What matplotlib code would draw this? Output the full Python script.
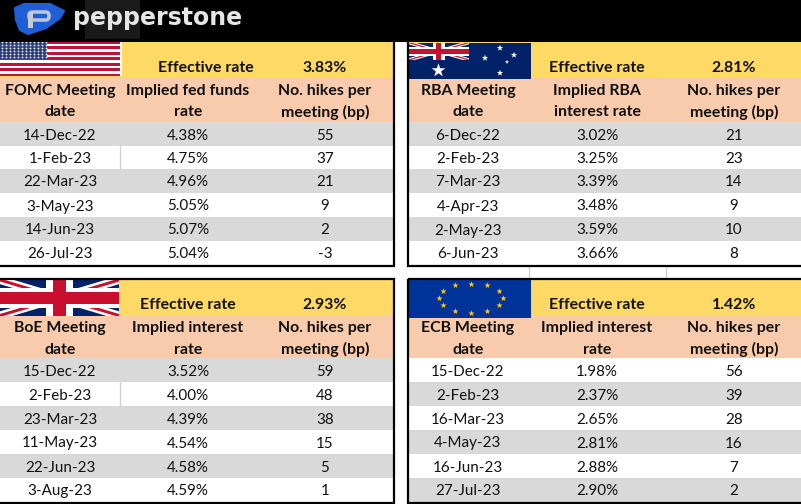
import numpy as np
import matplotlib
matplotlib.use('Agg')
import matplotlib.pyplot as plt
from matplotlib.patches import Rectangle, Polygon, FancyBboxPatch

plt.rcParams['font.family'] = ['Lato', 'DejaVu Sans']

W, H = 801, 504

GRAY = '#d9d9d9'
YELLOW = '#ffd966'
PEACH = '#f8cbad'
TXT = '#111111'
FS = 10.9
FS_BOLD = 11.4

# chart values
us_dates = ['14-Dec-22', '1-Feb-23', '22-Mar-23', '3-May-23', '14-Jun-23', '26-Jul-23']
us_rates = ['4.38%', '4.75%', '4.96%', '5.05%', '5.07%', '5.04%']
us_hikes = ['55', '37', '21', '9', '2', '-3']
us_head = ['FOMC Meeting\ndate', 'Implied fed funds\nrate', 'No. hikes per\nmeeting (bp)']
us_eff = '3.83%'

au_dates = ['6-Dec-22', '2-Feb-23', '7-Mar-23', '4-Apr-23', '2-May-23', '6-Jun-23']
au_rates = ['3.02%', '3.25%', '3.39%', '3.48%', '3.59%', '3.66%']
au_hikes = ['21', '23', '14', '9', '10', '8']
au_head = ['RBA Meeting\ndate', 'Implied RBA\ninterest rate', 'No. hikes per\nmeeting (bp)']
au_eff = '2.81%'

uk_dates = ['15-Dec-22', '2-Feb-23', '23-Mar-23', '11-May-23', '22-Jun-23', '3-Aug-23']
uk_rates = ['3.52%', '4.00%', '4.39%', '4.54%', '4.58%', '4.59%']
uk_hikes = ['59', '48', '38', '15', '5', '1']
uk_head = ['BoE Meeting\ndate', 'Implied interest\nrate', 'No. hikes per\nmeeting (bp)']
uk_eff = '2.93%'

eu_dates = ['15-Dec-22', '2-Feb-23', '16-Mar-23', '4-May-23', '16-Jun-23', '27-Jul-23']
eu_rates = ['1.98%', '2.37%', '2.65%', '2.81%', '2.88%', '2.90%']
eu_hikes = ['56', '39', '28', '16', '7', '2']
eu_head = ['ECB Meeting\ndate', 'Implied interest\nrate', 'No. hikes per\nmeeting (bp)']
eu_eff = '1.42%'

fig = plt.figure(figsize=(W / 100, H / 100), dpi=100)
ax = fig.add_axes([0, 0, 1, 1])
ax.set_xlim(0, W)
ax.set_ylim(H, 0)
ax.axis('off')


def rect(x0, y0, x1, y1, color, z=1):
    ax.add_patch(Rectangle((x0, y0), x1 - x0, y1 - y0, fc=color, ec='none', lw=0, zorder=z))


def panel(x0, x1, top, head_y, rows_y, cols, label_x, dates, rates, hikes, head, eff, grey_first=True):
    rect(x0, top, x1, head_y, YELLOW)
    rect(x0, head_y, x1, rows_y[0], PEACH)
    for i in range(6):
        shaded = (i % 2 == 0) == grey_first
        rect(x0, rows_y[i], x1, rows_y[i + 1], GRAY if shaded else 'white')
        yc = (rows_y[i] + rows_y[i + 1]) / 2 + 1.5
        for x, s in zip(cols, (dates[i], rates[i], hikes[i])):
            ax.text(x, yc, s, ha='center', va='center', fontsize=FS, color=TXT, zorder=5)
    for x, s in zip(cols, head):
        a, b = s.split('\n')
        ax.text(x, head_y + 13, a, ha='center', va='center', fontsize=FS_BOLD, fontweight='bold', color=TXT, zorder=5)
        ax.text(x, head_y + 34.5, b, ha='center', va='center', fontsize=FS_BOLD, fontweight='bold', color=TXT, zorder=5)
    ax.text(label_x, head_y - 10, 'Effective rate', ha='center', va='center', fontsize=FS_BOLD, fontweight='bold', color=TXT, zorder=5)
    ax.text(cols[2], head_y - 10, eff, ha='center', va='center', fontsize=FS_BOLD, fontweight='bold', color=TXT, zorder=5)


def union_jack(x0, y0, x1, y1, navy='#012169', scale=1.0):
    rect(x0, y0, x1, y1, navy, 3)
    w, h = x1 - x0, y1 - y0
    t = h * 0.10 * scale
    clip = Rectangle((x0, y0), w, h, transform=ax.transData)
    for (a, b, c, d), col, tt in [((x0, y0, x1, y1), 'white', t * 1.5), ((x0, y1, x1, y0), 'white', t * 1.5),
                                  ((x0, y0, x1, y1), '#c8102e', t * 0.55), ((x0, y1, x1, y0), '#c8102e', t * 0.55)]:
        ln, = ax.plot([a, c], [b, d], color=col, lw=tt * 0.72, solid_capstyle='butt', zorder=3.2)
        ln.set_clip_path(clip)
    cx, cy = (x0 + x1) / 2, (y0 + y1) / 2
    rect(cx - 2.6 * t, y0, cx + 2.6 * t, y1, 'white', 3.4)
    rect(x0, cy - 1.9 * t, x1, cy + 1.9 * t, 'white', 3.4)
    rect(cx - 1.2 * t, y0, cx + 1.2 * t, y1, '#c8102e', 3.6)
    rect(x0, cy - 1.15 * t, x1, cy + 1.15 * t, '#c8102e', 3.6)


# black header
rect(0, 0, W, 41.5, 'black', 2)
rect(85, 0, 140, 40, '#1a1a1a', 2.1)
rect(122, 40, 256, 41, 'white', 2.2)

# logo
ax.add_patch(Polygon([(15, 8), (24, 4), (50, 4), (64, 11), (60, 18), (46, 28), (28, 34), (20, 30), (16, 20)],
                     closed=True, fc='#1f5fd6', ec='#1f5fd6', lw=1.5, joinstyle='round', zorder=3))
ax.add_patch(FancyBboxPatch((29, 12), 20, 8, boxstyle='round,pad=0,rounding_size=3.5', fc='none', ec='#b9c4d6', lw=2.6, zorder=4))
rect(28, 12, 33, 28, '#c5ccd8', 4.1)
ax.text(73, 18, 'pepperstone', ha='left', va='center', fontsize=17, fontweight='bold',
        family='DejaVu Sans', color='#e6e6e6', zorder=4)

rows_top = [122, 146, 169, 193, 217, 241, 264]
rows_bot = [358, 382, 406, 430, 454, 478, 501.5]

panel(0, 393, 42, 78, rows_top, (60, 188, 325), 206, us_dates, us_rates, us_hikes, us_head, us_eff)
panel(408, W, 42, 78, rows_top, (468, 597, 734), 597, au_dates, au_rates, au_hikes, au_head, au_eff)
panel(0, 393, 280, 315, rows_bot, (60, 188, 325), 188, uk_dates, uk_rates, uk_hikes, uk_head, uk_eff)
panel(408, W, 280, 315, rows_bot, (468, 597, 734), 597, eu_dates, eu_rates, eu_hikes, eu_head, eu_eff, grey_first=False)

# panel borders
for x0, x1, y0, y1 in [(-2, 394, 40, 265.5), (407.5, W + 2, 40, 265.5), (-2, 394, 279, 503), (407.5, W + 2, 279, 503)]:
    ax.add_patch(Rectangle((x0, y0), x1 - x0, y1 - y0, fc='none', ec='black', lw=1.6, zorder=6))

# stray sheet gridlines
for x in (528.5, 665.5):
    ax.plot([x, x], [266.5, 278], color='#cfcfcf', lw=0.9, zorder=1)
ax.plot([119.5, 119.5], [146, 169], color='#cfcfcf', lw=0.9, zorder=4)
ax.plot([119.5, 119.5], [382, 406], color='#cfcfcf', lw=0.9, zorder=4)

# US flag
rect(0, 40, 121, 76, 'white', 3)
for k in range(7):
    y = 41 + k * 5.45
    rect(0, y, 120, y + 2.7, '#bf1238', 3.1)
rect(0, 40, 47, 58.5, '#2b3f7f', 3.3)
xs, ys = np.meshgrid(np.arange(2, 47, 4), np.arange(42, 58, 3))
ax.scatter(xs.ravel(), ys.ravel(), s=1.6, c='white', marker='o', lw=0, zorder=3.5)
rect(120, 42, 122, 76, 'white', 7)
rect(0, 39, 122, 41.5, 'black', 7)

# UK flag
union_jack(0, 280, 119, 315.5, scale=1.5)

# AU flag
rect(408.5, 42.5, 531, 79, '#012169', 3)
union_jack(408.5, 42.5, 469, 60, scale=1.3)
ax.scatter([500, 514, 485, 507, 500], [48, 55, 58, 62, 73], s=[24, 24, 24, 10, 24], c='white', marker='*', lw=0, zorder=4)
ax.scatter([438], [69.5], s=110, c='white', marker='*', lw=0, zorder=4)

# EU flag
rect(408.5, 280, 531, 318, '#003399', 3)
ang = np.deg2rad(np.arange(0, 360, 30))
ax.scatter(471 + 32 * np.sin(ang), 298 - 14.5 * np.cos(ang), s=22, c='#ffcc00', marker='*', lw=0, zorder=4)

fig.savefig('out.png', dpi=100)
